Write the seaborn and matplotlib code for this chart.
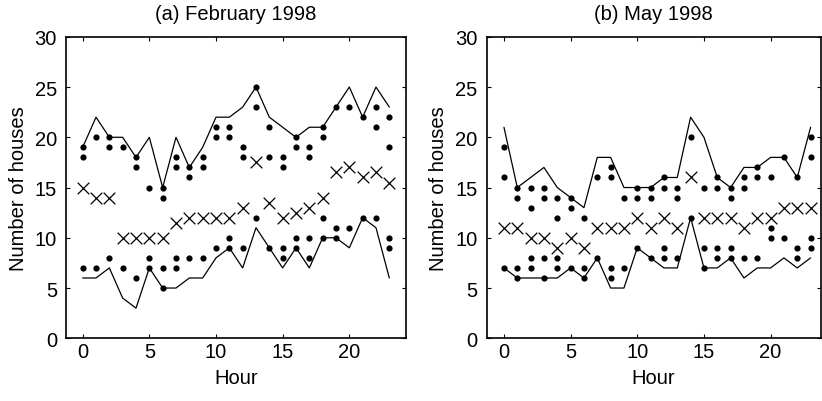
import numpy as np
import pandas as pd
import matplotlib
matplotlib.use("Agg")
import matplotlib.pyplot as plt
import seaborn as sns

hours = list(range(24))

# (a) February 1998
feb_upper = [19, 22, 20, 20, 18, 20, 15, 20, 17, 19, 22, 22, 23, 25,
             22, 21, 20, 21, 21, 23, 25, 22, 25, 23]
feb_lower = [6, 6, 7, 4, 3, 7, 5, 5, 6, 6, 8, 9, 7, 11,
             9, 7, 9, 7, 10, 10, 9, 12, 11, 6]
feb_median = [15, 14, 14, 10, 10, 10, 10, 11.5, 12, 12, 12, 12, 13, 17.5,
              13.5, 12, 12.5, 13, 14, 16.5, 17, 16, 16.5, 15.5]
feb_obs = [
    [19, 18, 7], [20, 7], [20, 19, 8], [19, 7], [18, 17, 6], [15, 8, 7],
    [15, 14, 7, 5], [18, 17, 8, 7], [17, 16, 8], [18, 17, 8], [21, 20, 9],
    [21, 20, 10, 9], [19, 18, 9], [25, 23, 12], [21, 18, 9], [18, 17, 9, 8],
    [20, 19, 10, 9], [19, 18, 10, 8], [21, 20, 12, 10], [23, 11, 10],
    [23, 11], [22, 12], [23, 21, 12], [22, 19, 10, 9],
]

# (b) May 1998
may_upper = [21, 15, 16, 17, 15, 14, 13, 18, 18, 15, 15, 15, 16, 16,
             22, 20, 16, 15, 17, 17, 18, 18, 16, 21]
may_lower = [7, 6, 6, 6, 6, 7, 6, 8, 5, 5, 9, 8, 7, 7,
             12, 7, 7, 8, 6, 7, 7, 8, 7, 8]
may_median = [11, 11, 10, 10, 9, 10, 9, 11, 11, 11, 12, 11, 12, 11,
              16, 12, 12, 12, 11, 12, 12, 13, 13, 13]
may_obs = [
    [19, 16, 7], [15, 14, 7, 6], [15, 13, 8, 7], [15, 14, 8, 6],
    [14, 12, 8, 7], [14, 13, 7], [12, 7, 6], [16, 8], [17, 16, 7, 6],
    [14, 7], [15, 14, 9], [15, 14, 8], [16, 15, 9, 8], [15, 14, 8],
    [20, 12], [15, 9, 7], [16, 15, 9, 8], [15, 14, 9, 8], [16, 15, 8],
    [17, 16, 8], [16, 11, 10], [18, 10], [16, 9, 8], [20, 18, 10, 9],
]

titles = ["(a) February 1998", "(b) May 1998"]
yticks = [0, 5, 10, 15, 20, 25, 30]
xticks = [0, 5, 10, 15, 20]

sns.set_style("ticks")
plt.rcParams["font.family"] = ["Liberation Sans", "DejaVu Sans"]
plt.rcParams["text.color"] = "black"
plt.rcParams["axes.labelcolor"] = "black"

FS = 14.5

fig = plt.figure(figsize=(8.22, 4.02), dpi=100)
axes = [fig.add_axes([0.0803, 0.156, 0.4136, 0.750]),
        fig.add_axes([0.592, 0.156, 0.4063, 0.750])]
xlims = [(-1.25, 24.25), (-1.3, 23.75)]

panels = [(feb_upper, feb_lower, feb_median, feb_obs),
          (may_upper, may_lower, may_median, may_obs)]

for ax, (upper, lower, median, obs), title, xl in zip(axes, panels, titles, xlims):
    bounds = pd.DataFrame({"Hour": hours, "upper": upper, "lower": lower,
                           "median": median})
    points = pd.DataFrame([(h, v) for h, vals in zip(hours, obs) for v in vals],
                          columns=["Hour", "value"])

    sns.lineplot(data=bounds, x="Hour", y="upper", ax=ax, color="black",
                 linewidth=0.9)
    sns.lineplot(data=bounds, x="Hour", y="lower", ax=ax, color="black",
                 linewidth=0.9)
    sns.scatterplot(data=points, x="Hour", y="value", ax=ax, color="black",
                    s=20, linewidth=0, marker="o")
    sns.scatterplot(data=bounds, x="Hour", y="median", ax=ax, color="black",
                    s=70, marker="x", linewidth=0.9)

    ax.set_xlim(*xl)
    ax.set_ylim(0, 30)
    ax.set_xticks(xticks)
    ax.set_yticks(yticks)
    ax.tick_params(direction="in", length=3, width=0.8, top=True, right=True,
                   labelsize=FS, colors="black")
    ax.tick_params(axis="x", pad=3)
    ax.tick_params(axis="y", pad=6.5)
    for sp in ax.spines.values():
        sp.set_visible(True)
        sp.set_linewidth(1.2)
        sp.set_color("black")
    ax.set_xlabel("Hour", fontsize=FS, labelpad=5)
    ax.set_ylabel("Number of houses", fontsize=FS, labelpad=5)
    ax.set_title(title, fontsize=FS, pad=13)

fig.savefig("out.png", dpi=100)
